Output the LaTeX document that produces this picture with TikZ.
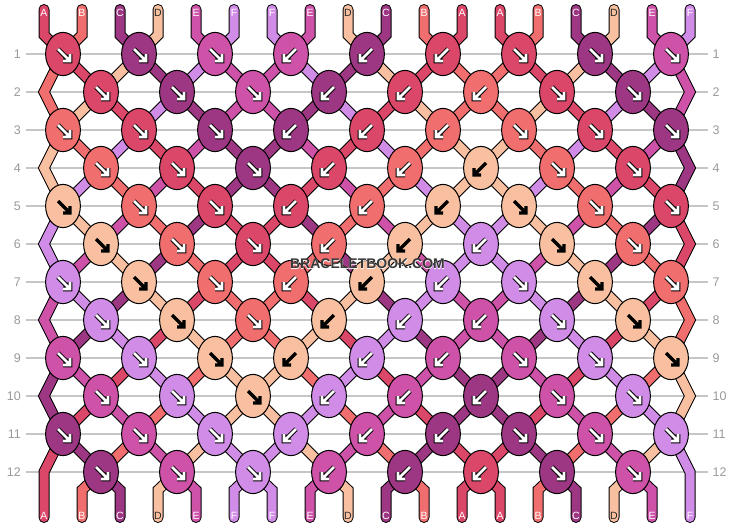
\documentclass[tikz,border=0pt]{standalone}
\usepackage{fontspec}
\setmainfont{Liberation Sans}
\newfontfamily\halofont[FakeBold=4]{Liberation Sans Bold}
\usetikzlibrary{shapes.geometric}
\definecolor{colA}{HTML}{DB4769}
\definecolor{colB}{HTML}{F06E6E}
\definecolor{colC}{HTML}{9E3783}
\definecolor{colD}{HTML}{F8C0A0}
\definecolor{colE}{HTML}{CD52A8}
\definecolor{colF}{HTML}{D08CE6}
\definecolor{gridgray}{HTML}{C6C6C6}
\definecolor{labgray}{HTML}{9A9A9A}
\definecolor{wmgray}{HTML}{383838}
\newcount\tpos
\def\letterD{D}
\newcommand\drawarrowpath[3]{%
  \draw[#3] ([shift={({-5*(#2)},-5)}]#1.center) -- ([shift={({7*(#2)},7)}]#1.center)
            ([shift={({7*(#2)},0)}]#1.center) -- ([shift={({7*(#2)},7)}]#1.center) -- ([shift={(0,7)}]#1.center);%
}
\newcommand\knotrow[2]{%
  \foreach \c [count=\k] in {#2}{%
    \node[knot, fill=col\c] (n-#1-\k) at (c-#1-\k) {};
    \ifnum\k>3 \ifnum\k<7 \def\mydir{-1}\else\def\mydir{1}\fi\else\def\mydir{1}\fi
    \edef\tmpc{\c}%
    \ifx\tmpc\letterD
      \drawarrowpath{n-#1-\k}{\mydir}{arrblk}
    \else
      \drawarrowpath{n-#1-\k}{\mydir}{arrout}
      \drawarrowpath{n-#1-\k}{\mydir}{arrin}
    \fi
  }%
}
\begin{document}
\begin{tikzpicture}[x=1pt,y=-1pt,
  knot/.style={ellipse, draw=black, line width=1pt, minimum width=34.8pt, minimum height=43.2pt, inner sep=0pt},
  throut/.style={line width=11pt, draw=black, line join=miter, line cap=round},
  thrfill/.style={line width=9pt, line join=miter, line cap=round},
  gridline/.style={draw=gridgray, line width=1.2pt},
  rowlab/.style={text=labgray, font=\fontsize{12.5}{12.5}\selectfont, inner sep=0pt},
  toplab/.style={font=\fontsize{10.5}{10.5}\selectfont, inner sep=0pt},
  arrout/.style={line width=4.6pt, draw=black, line join=miter},
  arrin/.style={line width=2.6pt, draw=white, line join=miter},
  arrblk/.style={line width=3.2pt, draw=black, line join=miter},
  wm/.style={font=\fontsize{14}{14}\selectfont\bfseries, inner sep=0pt}
]
\useasboundingbox (0,0) rectangle (734,528);
\fill[white] (0,0) rectangle (734,528);
% coordinates of knots, edges and thread ends
\foreach \r in {1,3,...,11}{\foreach \k in {1,...,9}{\coordinate (c-\r-\k) at ({63+76*(\k-1)},{54+38*(\r-1)});}}
\foreach \r in {2,4,...,12}{\foreach \k in {1,...,8}{\coordinate (c-\r-\k) at ({101+76*(\k-1)},{54+38*(\r-1)});}
  \coordinate (eL-\r) at (44,{54+38*(\r-1)});
  \coordinate (eR-\r) at (690,{54+38*(\r-1)});}
\foreach \p in {1,...,18}{
  \coordinate (t-\p) at ({44+38*(\p-1)},9.5);
  \coordinate (tb-\p) at ({44+38*(\p-1)},35);
  \coordinate (bb-\p) at ({44+38*(\p-1)},490);
  \coordinate (b-\p) at ({44+38*(\p-1)},517.5);}
% row labels and grid lines
\foreach \r in {1,...,12}{
  \node[rowlab, anchor=east] (lL-\r) at (21,{54+38*(\r-1)}) {\r};
  \node[rowlab, anchor=west] (lR-\r) at (712.5,{54+38*(\r-1)}) {\r};
  \draw[gridline] ([xshift=5]lL-\r.east) -- ([xshift=-4.5]lR-\r.west);
}
% thread paths
\foreach \t/\c in {1/A,2/B,3/C,4/D,5/E,6/F,7/F,8/E,9/D,10/C,11/B,12/A,13/A,14/B,15/C,16/D,17/E,18/F}{%
  \global\tpos=\t\relax
  \xdef\pth{(t-\t) -- (tb-\t)}%
  \foreach \r in {1,...,12}{%
    \ifodd\r\relax
      \ifodd\tpos
        \edef\nm{c-\r-\the\numexpr(\tpos+1)/2\relax}\def\mystep{1}%
      \else
        \edef\nm{c-\r-\the\numexpr\tpos/2\relax}\def\mystep{-1}%
      \fi
    \else
      \ifnum\tpos=1 \edef\nm{eL-\r}\def\mystep{0}%
      \else\ifnum\tpos=18 \edef\nm{eR-\r}\def\mystep{0}%
      \else\ifodd\tpos \edef\nm{c-\r-\the\numexpr(\tpos-1)/2\relax}\def\mystep{-1}%
      \else \edef\nm{c-\r-\the\numexpr\tpos/2\relax}\def\mystep{1}%
      \fi\fi\fi
    \fi
    \xdef\pth{\pth -- (\nm)}%
    \global\advance\tpos by \mystep\relax
  }%
  \xdef\pth{\pth -- (bb-\the\tpos) -- (b-\the\tpos)}%
  \expandafter\xdef\csname thr\t\endcsname{\pth}%
  \expandafter\xdef\csname thc\t\endcsname{\c}%
}
\foreach \t in {1,...,18}{\edef\tmp{\noexpand\draw[throut] \csname thr\t\endcsname;}\tmp}
\foreach \t in {1,...,18}{\edef\tmp{\noexpand\draw[thrfill,draw=col\csname thc\t\endcsname] \csname thr\t\endcsname;}\tmp}
% knots
\knotrow{1}{A,C,E,E,C,A,A,C,E}
\knotrow{2}{A,C,E,C,A,B,A,C}
\knotrow{3}{B,A,C,C,A,B,B,A,C}
\knotrow{4}{B,A,C,A,B,D,B,A}
\knotrow{5}{D,B,A,A,B,D,D,B,A}
\knotrow{6}{D,B,A,B,D,F,D,B}
\knotrow{7}{F,D,B,B,D,F,F,D,B}
\knotrow{8}{F,D,B,D,F,E,F,D}
\knotrow{9}{E,F,D,D,F,E,E,F,D}
\knotrow{10}{E,F,D,F,E,C,E,F}
\knotrow{11}{C,E,F,F,E,C,C,E,F}
\knotrow{12}{C,E,F,E,C,A,C,E}
% thread end labels
\foreach \p/\c/\tc in {1/A/white,2/B/white,3/C/white,4/D/black!85,5/E/white,6/F/white,7/F/white,8/E/white,9/D/black!85,10/C/white,11/B/white,12/A/white,13/A/white,14/B/white,15/C/white,16/D/black!85,17/E/white,18/F/white}{
  \node[toplab, text=\tc] (tl-\p) at ({44+38*(\p-1)},13) {\c};
  \node[toplab, text=\tc] (bl-\p) at ({44+38*(\p-1)},516) {\c};
}
% watermark with light halo
\node[inner sep=0pt, text=white, opacity=0.8, font=\fontsize{14}{14}\halofont] (wmh) at (367.5,264) {BRACELETBOOK.COM};
\node[wm, text=wmgray] (wm) at (367.5,264) {BRACELETBOOK.COM};
\end{tikzpicture}
\end{document}
